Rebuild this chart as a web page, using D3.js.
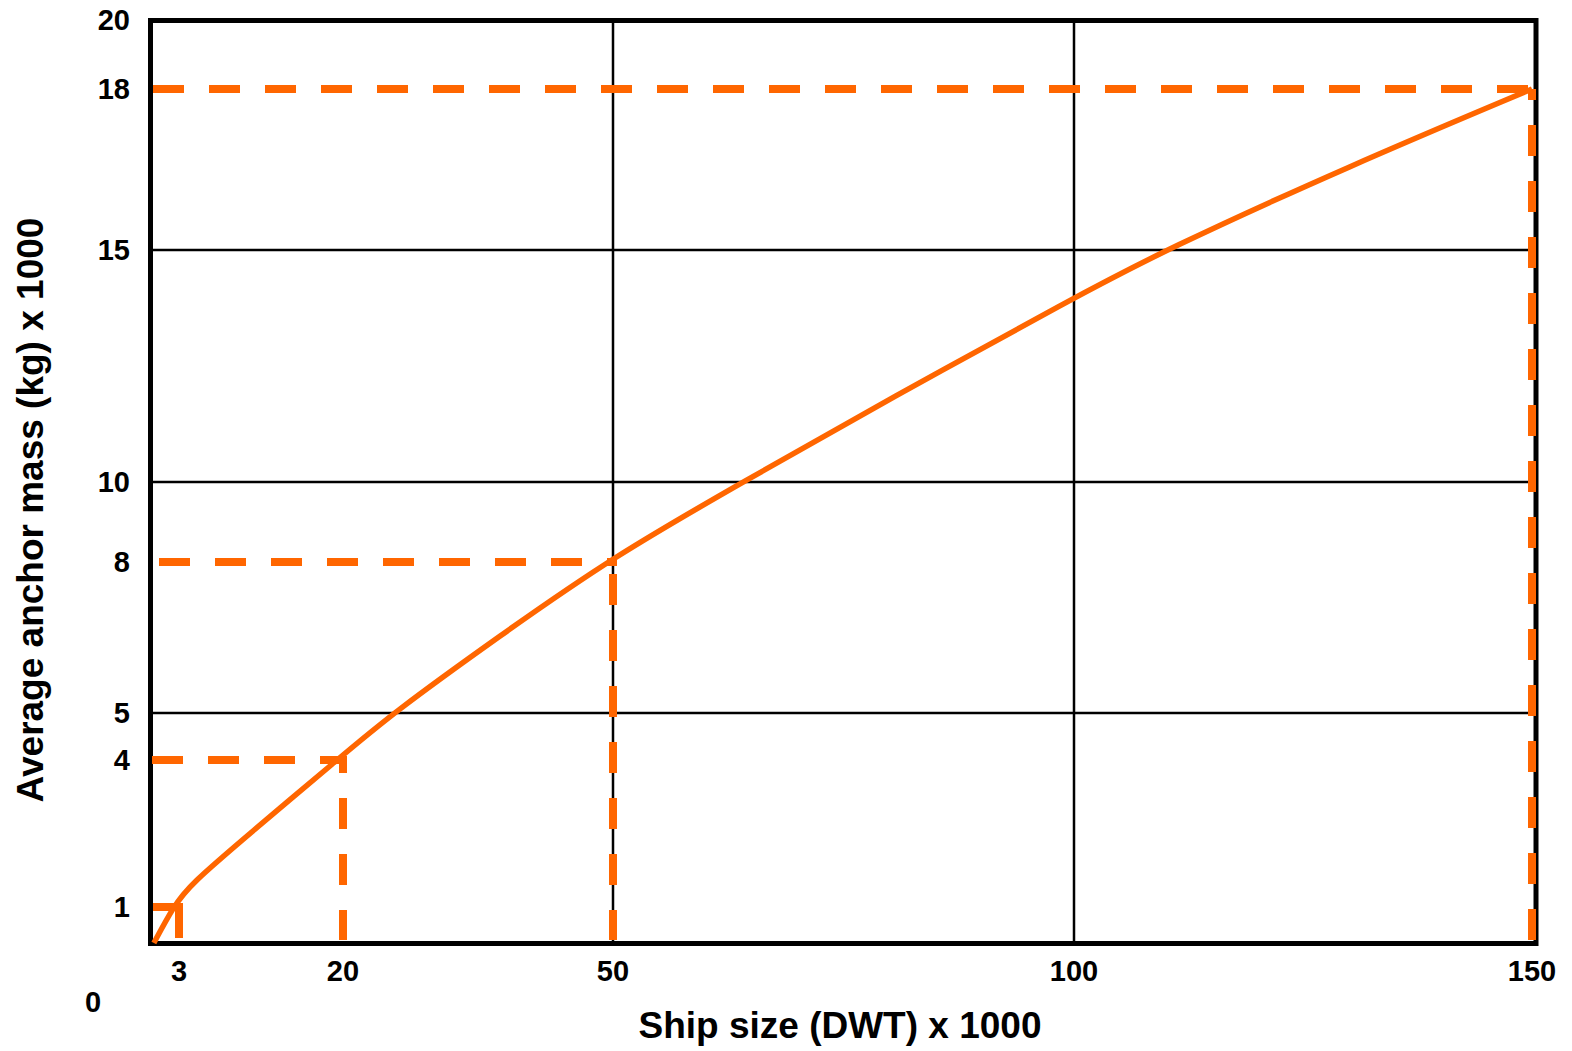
<!DOCTYPE html>
<html>
<head>
<meta charset="utf-8">
<script src="https://cdn.jsdelivr.net/npm/d3@7"></script>
<style>
  html, body { margin: 0; padding: 0; background: #fff; }
  svg { display: block; }
  text { font-family: "Liberation Sans", Arial, Helvetica, sans-serif; font-weight: bold; fill: #000; }
</style>
</head>
<body>
<svg id="chart" width="1572" height="1051"></svg>
<script>
// ---- data ----
const xTicks = [3, 20, 50, 100, 150];                 // x tick labels (DWT x 1000)
const yTicks = [1, 4, 5, 8, 10, 15, 18, 20];           // y tick labels (kg x 1000)
const xGrid = [50, 100];
const yGrid = [5, 10, 15];
// curve: ship size (DWT x 1000) vs average anchor mass (kg x 1000)
const curveX = [0.4, 2.4, 4.1, 10.4, 19.4, 25.4, 37.4, 50, 64.1, 80.0, 100, 109.7, 130.1, 150];
const curveY = [0, 1.0, 1.45, 2.51, 4.0, 4.98, 6.53, 8.13, 10, 11.79, 13.97, 14.98, 16.57, 18];
// reading guides (dashed): ship size -> anchor mass
const guideX = [3, 20, 50, 150];
const guideY = [1, 4, 8, 18];

// ---- layout / style ----
const plot = { left: 150.5, right: 1536, top: 20.5, bottom: 943.5 };
const orange = "#FF6600";
const dash = "31,25";
const hDashOffset = [53, 54, 47, 53];   // style: phase of horizontal dashes
const vDashOffset = [0, 18, 44, 20];    // style: phase of vertical dashes

// hand-drawn (non-uniform) axes -> piecewise linear scales
const x = d3.scaleLinear()
  .domain([0, 3, 20, 50, 100, 150])
  .range([150, 179, 343, 613, 1074, 1532]);
const y = d3.scaleLinear()
  .domain([0, 1, 4, 5, 8, 10, 15, 18, 20])
  .range([943, 907, 760, 713, 562, 482, 250, 89, 20]);

const svg = d3.select("#chart");

// grid lines
svg.append("g").selectAll("line").data(xGrid).join("line")
  .attr("x1", d => x(d)).attr("x2", d => x(d))
  .attr("y1", plot.top).attr("y2", plot.bottom)
  .attr("stroke", "#000").attr("stroke-width", 2.5);
svg.append("g").selectAll("line").data(yGrid).join("line")
  .attr("x1", plot.left).attr("x2", plot.right)
  .attr("y1", d => y(d)).attr("y2", d => y(d))
  .attr("stroke", "#000").attr("stroke-width", 2.5);

// frame
svg.append("rect")
  .attr("x", plot.left).attr("y", plot.top)
  .attr("width", plot.right - plot.left).attr("height", plot.bottom - plot.top)
  .attr("fill", "none").attr("stroke", "#000").attr("stroke-width", 5);

// dashed reading guides
const guides = guideX.map((gx, i) => ({ gx, gy: guideY[i], i }));
const gG = svg.append("g");
guides.forEach(g => {
  const hEnd = g.gx === 150 ? plot.right : x(g.gx) + 4;
  gG.append("line")
    .attr("x1", x(0)).attr("x2", hEnd)
    .attr("y1", y(g.gy)).attr("y2", y(g.gy))
    .attr("stroke", orange).attr("stroke-width", 8)
    .attr("stroke-dasharray", dash)
    .attr("stroke-dashoffset", hDashOffset[g.i]);
  gG.append("line")
    .attr("x1", x(g.gx)).attr("x2", x(g.gx))
    .attr("y1", y(g.gy)).attr("y2", y(0) - 3)
    .attr("stroke", orange).attr("stroke-width", 8)
    .attr("stroke-dasharray", dash)
    .attr("stroke-dashoffset", vDashOffset[g.i]);
});

// curve
const pts = curveX.map((d, i) => [d, curveY[i]]);
svg.append("path")
  .datum(pts)
  .attr("fill", "none")
  .attr("stroke", orange)
  .attr("stroke-width", 5.5)
  .attr("stroke-linejoin", "round")
  .attr("d", d3.line().x(d => x(d[0])).y(d => y(d[1])).curve(d3.curveBasis));

// y tick labels
svg.append("g").selectAll("text").data(yTicks).join("text")
  .attr("x", 130).attr("y", d => y(d))
  .attr("dy", "0.36em")
  .attr("text-anchor", "end")
  .attr("font-size", 29)
  .text(d => d);

// x tick labels
svg.append("g").selectAll("text").data(xTicks).join("text")
  .attr("x", d => x(d)).attr("y", 981)
  .attr("text-anchor", "middle")
  .attr("font-size", 29)
  .text(d => d);

// origin label
svg.append("text")
  .attr("x", x(0) - 57).attr("y", 1012)
  .attr("text-anchor", "middle")
  .attr("font-size", 29)
  .text("0");

// axis titles
svg.append("text")
  .attr("x", 840).attr("y", 1038)
  .attr("text-anchor", "middle")
  .attr("font-size", 37)
  .text("Ship size (DWT) x 1000");
svg.append("text")
  .attr("transform", "translate(43,510) rotate(-90)")
  .attr("text-anchor", "middle")
  .attr("font-size", 37)
  .text("Average anchor mass (kg) x 1000");
</script>
</body>
</html>
